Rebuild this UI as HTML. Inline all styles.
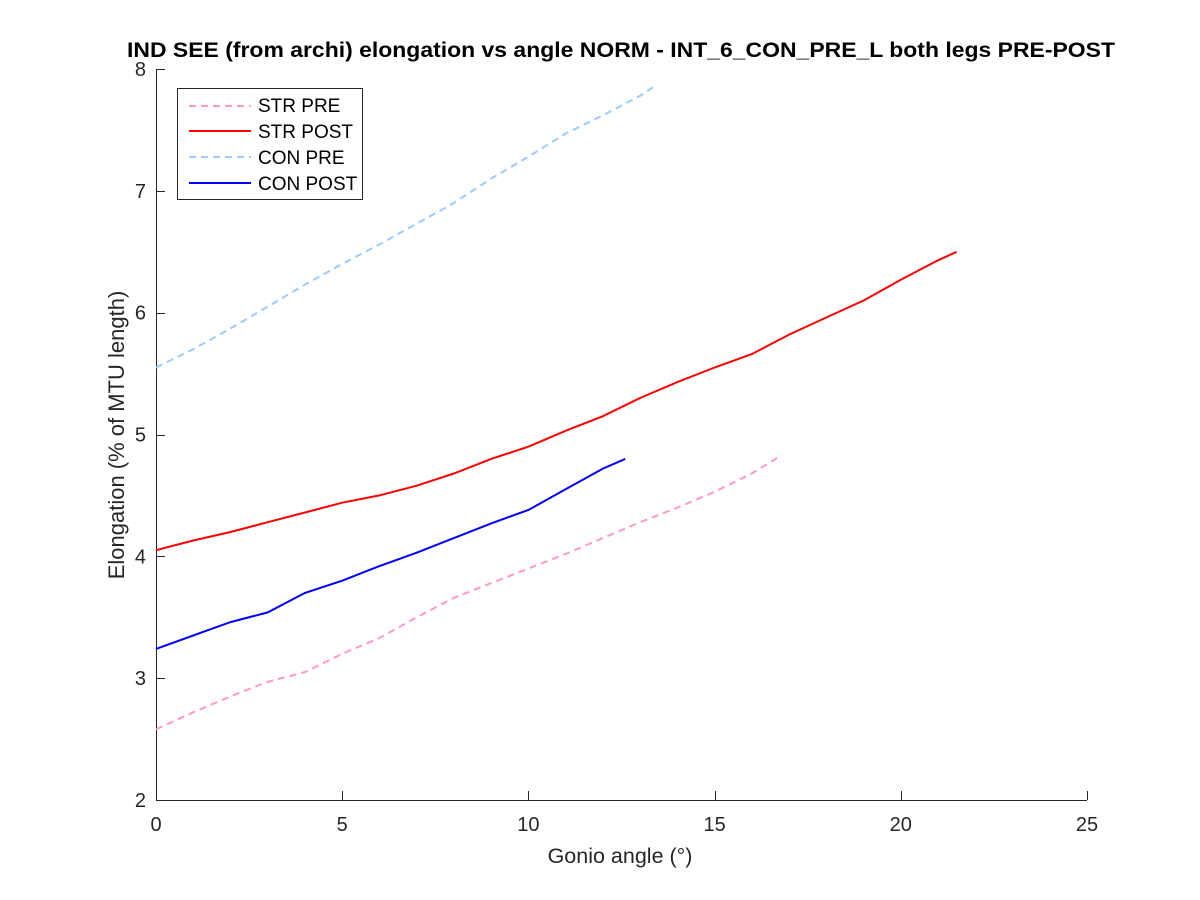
<!DOCTYPE html>
<html><head><meta charset="utf-8"><style>
body{margin:0;background:#fff;}
svg{display:block;font-family:"Liberation Sans",Arial,sans-serif;}
</style></head><body>
<svg id="chart" width="1200" height="900" viewBox="0 0 1200 900">
<rect width="1200" height="900" fill="#fff"/>
<text x="621" y="57" font-size="21.5" font-weight="bold" text-anchor="middle" fill="#000" textLength="988" lengthAdjust="spacingAndGlyphs">IND SEE (from archi) elongation vs angle NORM - INT_6_CON_PRE_L both legs PRE-POST</text>
<g id="axes"></g>
<g id="series"></g>
<text x="620" y="863" font-size="21.5" text-anchor="middle" fill="#262626">Gonio angle (°)</text>
<text transform="translate(124,435) rotate(-90)" font-size="22" text-anchor="middle" fill="#262626">Elongation (% of MTU length)</text>
<g>
<rect x="177.5" y="88.5" width="185" height="111" fill="#fff" stroke="#262626" stroke-width="1"/>
<g><line x1="189" y1="106" x2="251" y2="106" stroke="#ff99cc" stroke-width="2" stroke-dasharray="7,5"/><text x="258" y="112" font-size="19" fill="#000">STR PRE</text></g>
<g><line x1="189" y1="131" x2="251" y2="131" stroke="#ff0000" stroke-width="2"/><text x="258" y="138" font-size="19" fill="#000">STR POST</text></g>
<g><line x1="189" y1="157" x2="251" y2="157" stroke="#99ccff" stroke-width="2" stroke-dasharray="7,5"/><text x="258" y="164" font-size="19" fill="#000">CON PRE</text></g>
<g><line x1="189" y1="183" x2="251" y2="183" stroke="#0000ff" stroke-width="2"/><text x="258" y="190" font-size="19" fill="#000">CON POST</text></g>
</g>
</svg>
<script>
const xTicks = [0,5,10,15,20,25];
const yTicks = [2,3,4,5,6,7,8];
const strPreX = [0,1,2,3,4,5,6,7,8,9,10,11,12,13,14,15,16,16.8];
const strPreY = [2.58,2.72,2.85,2.97,3.05,3.2,3.33,3.5,3.66,3.78,3.9,4.02,4.15,4.28,4.4,4.53,4.68,4.83];
const strPostX = [0,1,2,3,4,5,6,7,8,9,10,11,12,13,14,15,16,17,18,19,20,21,21.5];
const strPostY = [4.05,4.13,4.2,4.28,4.36,4.44,4.5,4.58,4.68,4.8,4.9,5.03,5.15,5.3,5.43,5.55,5.66,5.82,5.96,6.1,6.27,6.43,6.5];
const conPreX = [0,1,2,3,4,5,6,7,8,9,10,11,12,13,13.4];
const conPreY = [5.55,5.7,5.87,6.05,6.23,6.4,6.56,6.73,6.9,7.1,7.28,7.47,7.62,7.78,7.86];
const conPostX = [0,1,2,3,4,5,6,7,8,9,10,11,12,12.6];
const conPostY = [3.24,3.35,3.46,3.54,3.7,3.8,3.92,4.03,4.15,4.27,4.38,4.55,4.72,4.8];

const L=156,R=1087,T=69,B=800;
const xs=v=>L+(v-0)/(25-0)*(R-L);
const ys=v=>B-(v-2)/(8-2)*(B-T);
const NS='http://www.w3.org/2000/svg';
const axes=document.getElementById('axes');
const series=document.getElementById('series');
function mk(tag,attrs,parent){const e=document.createElementNS(NS,tag);for(const k in attrs)e.setAttribute(k,attrs[k]);parent.appendChild(e);return e;}

const xa=mk('line',{x1:L,y1:B+0.5,x2:R,y2:B+0.5,stroke:'#262626','stroke-width':1},axes);


const ya=mk('line',{x1:L+0.5,y1:T,x2:L+0.5,y2:B,stroke:'#262626','stroke-width':1},axes);


xTicks.forEach(t=>{
  const x=Math.round(xs(t))+0.5;
  mk('line',{x1:x,y1:B,x2:x,y2:B-9,stroke:'#262626'},axes);
  const tx=mk('text',{x:xs(t),y:B+31,'font-size':20,'text-anchor':'middle',fill:'#262626'},axes);
  tx.textContent=t;
  
  
});
yTicks.forEach(t=>{
  const y=Math.round(ys(t))+0.5;
  mk('line',{x1:L,y1:y,x2:L+9,y2:y,stroke:'#262626'},axes);
  const ty=mk('text',{x:L-10,y:ys(t)+7,'font-size':20,'text-anchor':'end',fill:'#262626'},axes);
  ty.textContent=t;
  
  
});
function line(X,Y,color,dash,name){
  const d=X.map((x,i)=>(i?'L':'M')+xs(x).toFixed(1)+','+ys(Y[i]).toFixed(1)).join('');
  const p=mk('path',{d:d,fill:'none',stroke:color,'stroke-width':2},series);
  if(dash)p.setAttribute('stroke-dasharray','7,5');
  
  
}
line(strPreX,strPreY,'#ff99cc',true,'line-str-pre');
line(strPostX,strPostY,'#ff0000',false,'line-str-post');
line(conPreX,conPreY,'#99ccff',true,'line-con-pre');
line(conPostX,conPostY,'#0000ff',false,'line-con-post');
</script>
</body></html>
